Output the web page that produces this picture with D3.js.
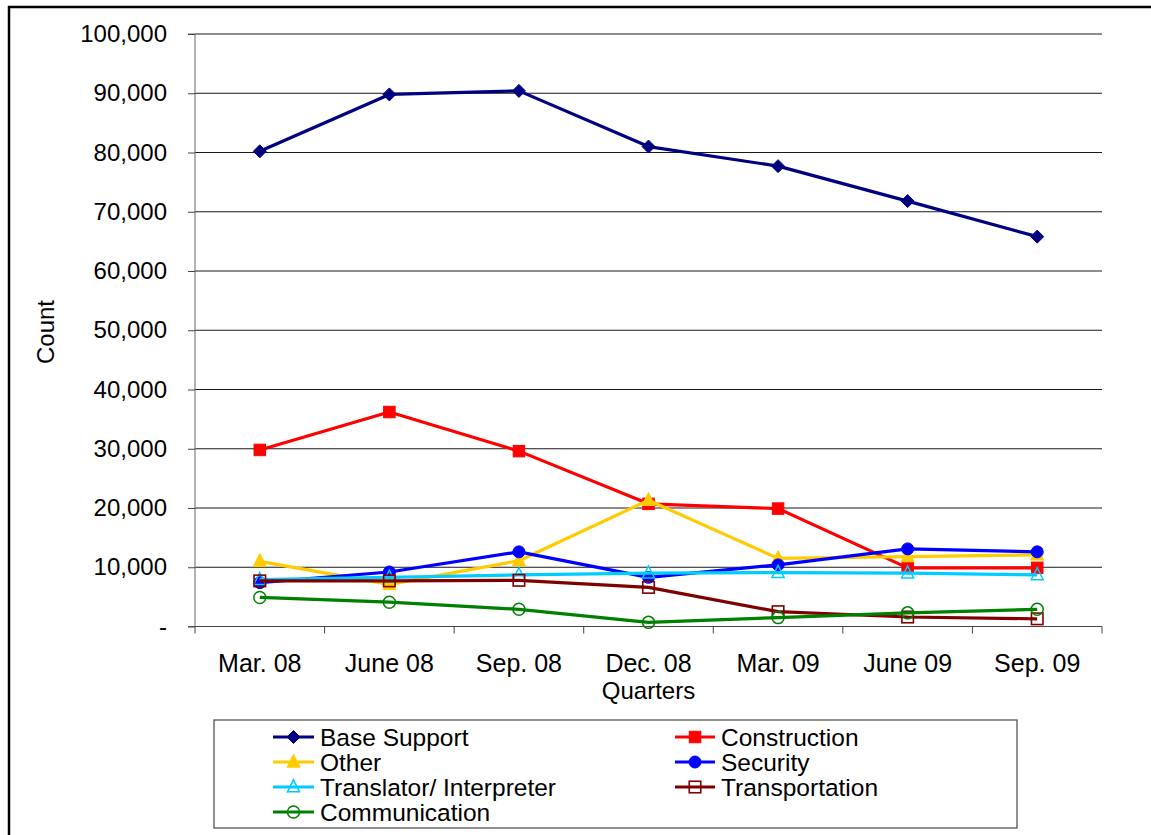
<!DOCTYPE html>
<html><head><meta charset="utf-8">
<script src="https://cdn.jsdelivr.net/npm/d3@7"></script>
<style>body{margin:0;background:#fff;} svg{display:block;font-family:"Liberation Sans",Arial,sans-serif;}</style>
</head><body>
<script>
const categories = ["Mar. 08","June 08","Sep. 08","Dec. 08","Mar. 09","June 09","Sep. 09"];
const baseSupport    = [80200, 89800, 90400, 81000, 77700, 71800, 65800];
const construction   = [29800, 36200, 29600, 20700, 19900, 9900, 9900];
const other          = [11000, 7100, 11100, 21300, 11500, 11800, 12100];
const security       = [7400, 9200, 12600, 8300, 10400, 13100, 12600];
const translator     = [7900, 8300, 8700, 9000, 9100, 9000, 8700];
const transportation = [7700, 7700, 7800, 6600, 2500, 1600, 1300];
const communication  = [4900, 4100, 2900, 700, 1500, 2300, 2900];
const yTicks = [0,10000,20000,30000,40000,50000,60000,70000,80000,90000,100000];
const seriesNames = ["Base Support","Construction","Other","Security","Translator/ Interpreter","Transportation","Communication"];

const series = [
  {name:seriesNames[0], values:baseSupport, color:"#000080", marker:"diamond", fill:true},
  {name:seriesNames[1], values:construction, color:"#FF0000", marker:"square", fill:true},
  {name:seriesNames[2], values:other, color:"#FFCC00", marker:"triangle", fill:true},
  {name:seriesNames[3], values:security, color:"#0000FF", marker:"circle", fill:true},
  {name:seriesNames[4], values:translator, color:"#00CCFF", marker:"triangle", fill:false},
  {name:seriesNames[5], values:transportation, color:"#800000", marker:"square", fill:false},
  {name:seriesNames[6], values:communication, color:"#008000", marker:"circle", fill:false}
];

const W = 1151, H = 835;
const L = 195, R = 1102, T = 34, B = 626.5;
const svg = d3.select("body").append("svg").attr("width", W).attr("height", H);

// outer frame (left & top visible)
svg.append("path").attr("d", `M9,835 L9,7 L1151,7`).attr("fill","none").attr("stroke","#000").attr("stroke-width",2.5);

const x = d3.scaleBand().domain(categories).range([L, R]);
const y = d3.scaleLinear().domain([0, 100000]).range([B, T]);

// gridlines
svg.append("g").selectAll("line").data(yTicks.filter(d=>d>0)).join("line")
  .attr("x1", L).attr("x2", R).attr("y1", d=>y(d)).attr("y2", d=>y(d))
  .attr("stroke", "#1a1a1a").attr("stroke-width", 1);

// y axis
const yAxis = d3.axisLeft(y).tickValues(yTicks).tickSize(7).tickPadding(21)
  .tickFormat(d => d === 0 ? "-" : d3.format(",")(d));
const gy = svg.append("g").attr("transform", `translate(${L},0)`).call(yAxis);
gy.select(".domain").attr("stroke", "#666").attr("d", `M-7,${T}H0V${B}H-7`);
gy.selectAll(".tick line").attr("stroke", "#444");
gy.selectAll(".tick text").attr("font-size", 24).attr("fill", "#000").attr("font-family","Liberation Sans, Arial, sans-serif");

// x axis
const gx = svg.append("g");
gx.append("line").attr("x1", L).attr("x2", R).attr("y1", B).attr("y2", B).attr("stroke", "#444").attr("stroke-width",1.2);
const bounds = categories.map(c => x(c)).concat([R]);
gx.selectAll("line.tk").data(bounds).join("line").attr("class","tk")
  .attr("x1", d=>d).attr("x2", d=>d).attr("y1", B).attr("y2", B+7).attr("stroke", "#444");
gx.selectAll("text").data(categories).join("text")
  .attr("x", d => x(d) + x.bandwidth()/2).attr("y", 672)
  .attr("text-anchor","middle").attr("font-size", 25).text(d=>d);

svg.append("text").attr("x", (L+R)/2).attr("y", 699).attr("text-anchor","middle").attr("font-size",24).text("Quarters");
svg.append("text").attr("transform","translate(54,332) rotate(-90)").attr("text-anchor","middle").attr("font-size",24).text("Count");

function marker(g, type, color, fill, cx, cy) {
  if (type === "diamond") {
    g.append("path").attr("d", `M${cx},${cy-6.5}L${cx+6.5},${cy}L${cx},${cy+6.5}L${cx-6.5},${cy}Z`).attr("fill", color).attr("stroke", color);
  } else if (type === "square") {
    const s = 11.5;
    g.append("rect").attr("x", cx - s/2).attr("y", cy - s/2).attr("width", s).attr("height", s)
      .attr("fill", fill ? color : "none").attr("stroke", color).attr("stroke-width", fill?1:1.6);
  } else if (type === "triangle") {
    const h = fill ? 13 : 12;
    g.append("path").attr("d", `M${cx},${cy-h*0.6}L${cx+h/2},${cy+h*0.4}L${cx-h/2},${cy+h*0.4}Z`)
      .attr("fill", fill ? color : "none").attr("stroke", color).attr("stroke-width", fill?1:1.5);
  } else if (type === "circle") {
    g.append("circle").attr("cx", cx).attr("cy", cy).attr("r", 6)
      .attr("fill", fill ? color : "none").attr("stroke", color).attr("stroke-width", fill?1:1.5);
  }
}

const line = d3.line().x((d,i) => x(categories[i]) + x.bandwidth()/2).y(d => y(d));
series.forEach(s => {
  const g = svg.append("g");
  g.append("path").attr("d", line(s.values)).attr("fill","none").attr("stroke", s.color).attr("stroke-width", 3.2).attr("stroke-linejoin","round");
  s.values.forEach((v,i) => marker(g, s.marker, s.color, s.fill, x(categories[i]) + x.bandwidth()/2, y(v)));
});

// legend
svg.append("rect").attr("x", 214).attr("y", 720).attr("width", 803).attr("height", 108)
  .attr("fill","#fff").attr("stroke","#555").attr("stroke-width",1.3);
const legCols = [{lx1:273, lx2:314, tx:320}, {lx1:675, lx2:715, tx:721}];
const rowY = [737, 762, 787, 812];
series.forEach((s, i) => {
  const col = legCols[i % 2], ry = rowY[Math.floor(i/2)];
  const g = svg.append("g");
  g.append("line").attr("x1", col.lx1).attr("x2", col.lx2).attr("y1", ry).attr("y2", ry).attr("stroke", s.color).attr("stroke-width", 3.2);
  marker(g, s.marker, s.color, s.fill, (col.lx1+col.lx2)/2, ry);
  g.append("text").attr("x", col.tx).attr("y", ry + 8.5).attr("font-size", 24.5).text(s.name);
});
</script>
</body></html>
